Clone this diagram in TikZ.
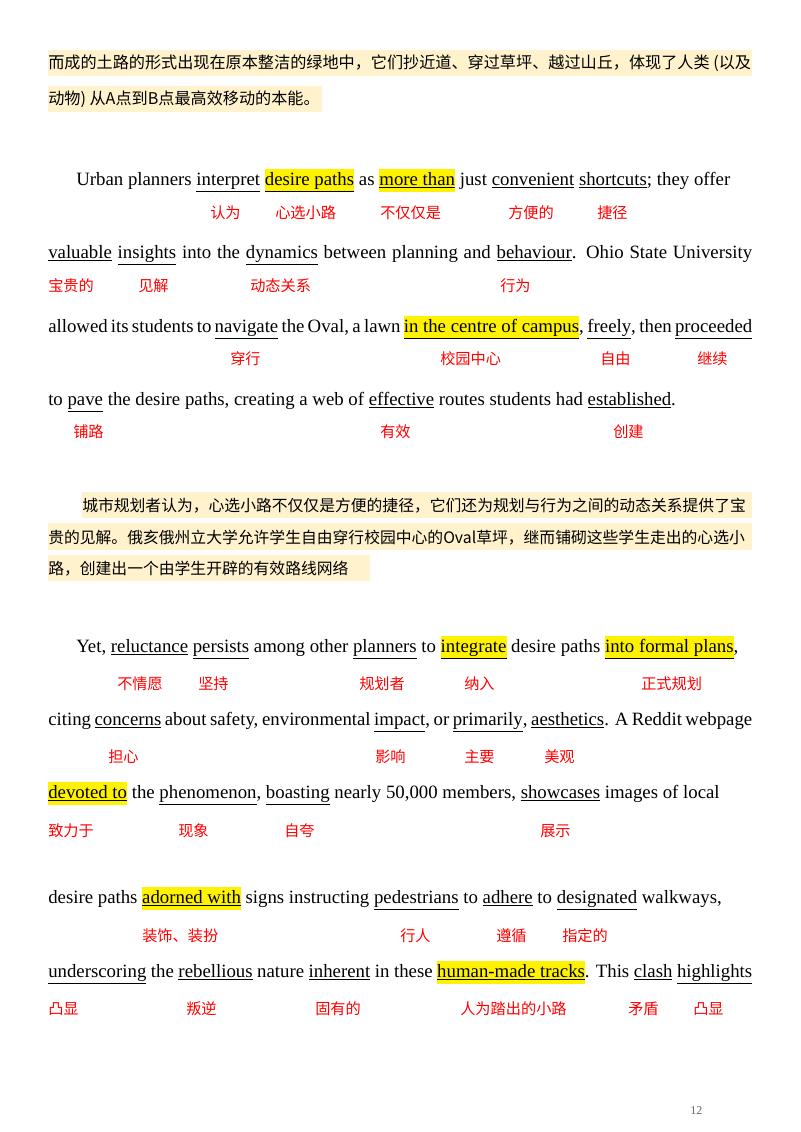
\documentclass[tikz,border=0pt]{standalone}
\usepackage{fontspec}
\setmainfont{Liberation Serif}
\newfontfamily\cjk{Noto Sans CJK SC}
\definecolor{bgy}{HTML}{FFF2CC}
\definecolor{lab}{HTML}{FF0000}
\newcommand\uu[1]{\underline{#1}}
\newcommand\hlt[1]{{\setlength{\fboxsep}{0pt}\colorbox{yellow}{\strut\underline{#1}}}}
\tikzset{en/.style={anchor=base west,inner sep=0pt,font=\fontsize{14.1}{17}\selectfont},
 zh/.style={anchor=base west,inner sep=0pt,font=\cjk\fontsize{12.1}{14}\selectfont},
 zhb/.style={anchor=base west,inner sep=0pt,font=\cjk\fontsize{11.85}{14}\selectfont},
 lb/.style={anchor=base west,inner sep=0pt,text=lab,font=\cjk\fontsize{11.4}{14}\selectfont}}
\begin{document}
\begin{tikzpicture}[x=0.75pt,y=-0.75pt]
\useasboundingbox (0,0) rectangle (800,1132);
\fill[bgy] (48,50) rectangle (752,76);
\fill[bgy] (48,86) rectangle (322,112);
\fill[bgy] (82,492) rectangle (752,518);
\fill[bgy] (48,523) rectangle (752,550);
\fill[bgy] (48,555) rectangle (370,581);
\node[zh] (c1) at (48,68) {而成的土路的形式出现在原本整洁的绿地中，它们抄近道、穿过草坪、越过山丘，体现了人类 (以及};
\node[zh] (c2) at (48,104) {动物) 从A点到B点最高效移动的本能。};
% paragraph 1
\node[en] (e1) at (76,185) {\makebox[490.5pt][s]{Urban planners \uu{interpret} \hlt{desire paths} as \hlt{more than} just \uu{convenient} \uu{shortcuts}; they offer}};
\node[en] (e2) at (48,258) {\makebox[528pt][s]{\uu{valuable} \uu{insights} into the \uu{dynamics} between planning and \uu{behaviour}. Ohio State University}};
\node[en] (e3) at (48,332) {\makebox[528pt][s]{allowed its students to \uu{navigate} the Oval, a lawn \hlt{in the centre of campus}, \uu{freely}, then \uu{proceeded}}};
\node[en] (e4) at (48,405) {to \uu{pave} the desire paths, creating a web of \uu{effective} routes students had \uu{established}.};
\foreach \x/\t in {210/认为,275/心选小路,380/不仅仅是,508/方便的,597/捷径} \node[lb] at (\x,218) {\t};
\foreach \x/\t in {48/宝贵的,138/见解,250/动态关系,500/行为} \node[lb] at (\x,291) {\t};
\foreach \x/\t in {230/穿行,440/校园中心,600/自由,697/继续} \node[lb] at (\x,364) {\t};
\foreach \x/\t in {73/铺路,380/有效,613/创建} \node[lb] at (\x,437) {\t};
% chinese paragraph 2
\node[zhb] (d1) at (82,511) {城市规划者认为，心选小路不仅仅是方便的捷径，它们还为规划与行为之间的动态关系提供了宝};
\node[zhb] (d2) at (48,543) {贵的见解。俄亥俄州立大学允许学生自由穿行校园中心的Oval草坪，继而铺砌这些学生走出的心选小};
\node[zhb] (d3) at (48,574) {路，创建出一个由学生开辟的有效路线网络};
% paragraph 3
\node[en] (f1) at (76,652) {\makebox[496.5pt][s]{Yet, \uu{reluctance} \uu{persists} among other \uu{planners} to \hlt{integrate} desire paths \hlt{into formal plans},}};
\node[en] (f2) at (48,725) {\makebox[528pt][s]{citing \uu{concerns} about safety, environmental \uu{impact}, or \uu{primarily}, \uu{aesthetics}. A Reddit webpage}};
\node[en] (f3) at (48,798) {\hlt{devoted to} the \uu{phenomenon}, \uu{boasting} nearly 50,000 members, \uu{showcases} images of local};
\node[en] (f4) at (48,903) {desire paths \hlt{adorned with} signs instructing \uu{pedestrians} to \uu{adhere} to \uu{designated} walkways,};
\node[en] (f5) at (48,977) {\makebox[528pt][s]{\uu{underscoring} the \uu{rebellious} nature \uu{inherent} in these \hlt{human-made tracks}. This \uu{clash} \uu{highlights}}};
\foreach \x/\t in {117/不情愿,198/坚持,359/规划者,464/纳入,641/正式规划} \node[lb] at (\x,689) {\t};
\foreach \x/\t in {108/担心,375/影响,464/主要,544/美观} \node[lb] at (\x,762) {\t};
\foreach \x/\t in {48/致力于,178/现象,284/自夸,540/展示} \node[lb] at (\x,836) {\t};
\foreach \x/\t in {142/装饰、装扮,400/行人,496/遵循,562/指定的} \node[lb] at (\x,941) {\t};
\foreach \x/\t in {48/凸显,186/叛逆,315/固有的,460/人为踏出的小路,628/矛盾,693/凸显} \node[lb] at (\x,1014) {\t};
\node[anchor=base west,inner sep=0pt,text=black!60,font=\fontsize{9}{10}\selectfont] (pg) at (690,1114) {12};
\end{tikzpicture}
\end{document}
